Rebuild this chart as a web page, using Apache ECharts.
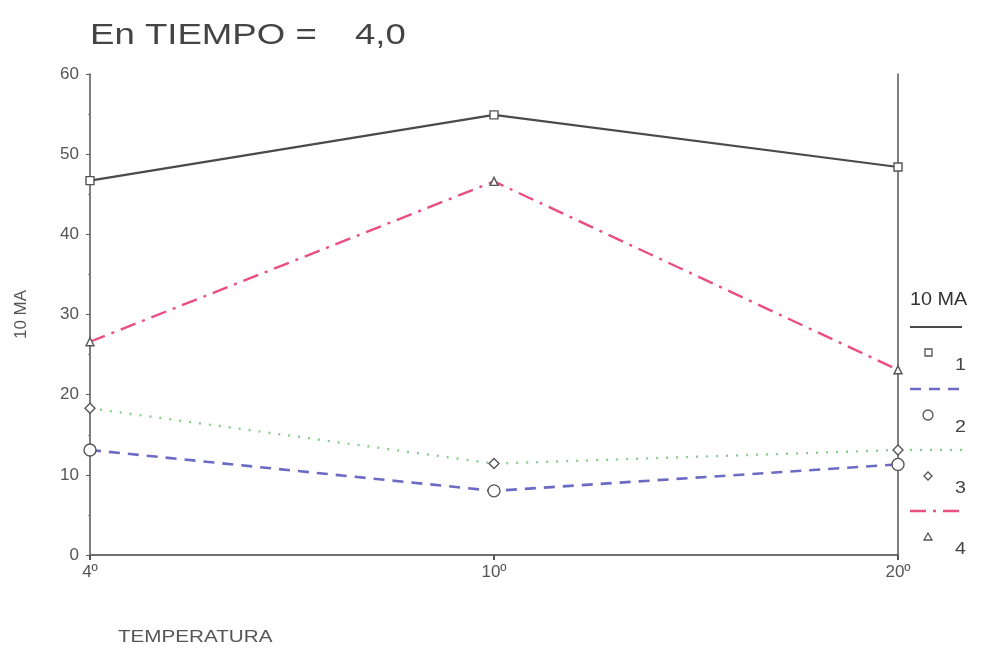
<!DOCTYPE html>
<html>
<head>
<meta charset="utf-8">
<script src="https://cdn.jsdelivr.net/npm/echarts@6/dist/echarts.min.js"></script>
<style>html,body{margin:0;padding:0;background:#fff;}#c{width:982px;height:657px;}</style>
</head>
<body>
<div id="c"></div>
<script>
const categories = ['4º', '10º', '20º'];
const seriesNames = ['1', '2', '3', '4'];
const s1 = [46.7, 54.9, 48.4];
const s2 = [13.1, 8.0, 11.3];
const s3 = [18.3, 11.4, 13.1];
const s4 = [26.6, 46.6, 23.1];
const yTicks = [0, 10, 20, 30, 40, 50, 60];

const chart = echarts.init(document.getElementById('c'));
const FONT = 'Liberation Sans, Arial, sans-serif';
const markerStyle = {color: '#fff', borderColor: '#555', borderWidth: 1.4};

const styles = [
  {color: '#4a4a4a', type: 'solid', width: 2.2, symbol: 'rect', size: 8},
  {color: '#6b6bc6', type: [11, 8], width: 2.6, symbol: 'circle', size: 12},
  {color: '#86d08a', type: [2, 8], width: 2.4, symbol: 'diamond', size: 10},
  {color: '#ea4f80', type: [16, 7, 3, 7], width: 2.4, symbol: 'triangle', size: 8}
];
const data = [s1, s2, s3, s4];

const series = data.map((d, i) => ({
  name: seriesNames[i],
  type: 'line',
  data: d,
  symbol: styles[i].symbol,
  symbolSize: styles[i].size,
  showAllSymbol: true,
  lineStyle: {color: styles[i].color, type: styles[i].type, width: styles[i].width},
  itemStyle: markerStyle,
  z: 3 + i
}));

// legend graphics
const legendG = [];
legendG.push({type: 'text', x: 910, y: 300, scaleX: 1.1, style: {text: '10 MA', font: '18px ' + FONT, fill: '#333', verticalAlign: 'middle'}});
const lineY = [327, 389, 450, 511];
styles.forEach((s, i) => {
  legendG.push({type: 'line', shape: {x1: 910, y1: lineY[i], x2: 962, y2: lineY[i]},
    style: {stroke: s.color, lineWidth: s.width, lineDash: s.type === 'solid' ? null : s.type}});
  const my = lineY[i] + 26;
  let shape;
  if (s.symbol === 'rect') shape = {type: 'rect', shape: {x: 925, y: my - 4, width: 7, height: 7}};
  else if (s.symbol === 'circle') shape = {type: 'circle', shape: {cx: 928, cy: my, r: 5}};
  else if (s.symbol === 'diamond') shape = {type: 'polygon', shape: {points: [[928, my - 4], [932, my], [928, my + 4], [924, my]]}};
  else shape = {type: 'polygon', shape: {points: [[928, my - 4], [932, my + 3], [924, my + 3]]}};
  shape.style = {fill: '#fff', stroke: '#555', lineWidth: 1.3};
  legendG.push(shape);
  legendG.push({type: 'text', x: 955, y: my + 12, scaleX: 1.15, style: {text: seriesNames[i], font: '17px ' + FONT, fill: '#444', verticalAlign: 'middle'}});
});

chart.setOption({
  animation: false,
  backgroundColor: '#fff',
  textStyle: {fontFamily: FONT},
  grid: {left: 90, top: 74, right: 84, bottom: 102},
  xAxis: [{
    type: 'category',
    data: categories,
    boundaryGap: false,
    axisLine: {lineStyle: {color: '#aaa', width: 1.5}},
    axisTick: {show: true, length: 5, lineStyle: {color: '#555', width: 2}},
    axisLabel: {color: '#555', fontSize: 17, margin: 9, fontFamily: FONT},
    splitLine: {show: false}
  }, {
    type: 'category',
    data: categories,
    position: 'top',
    boundaryGap: false,
    axisLine: {show: true, lineStyle: {color: '#555', width: 1.5}},
    axisTick: {show: false},
    axisLabel: {show: false},
    splitLine: {show: false}
  }],
  yAxis: [{
    type: 'value',
    min: 0, max: 60, interval: 10,
    name: '10 MA',
    nameLocation: 'middle',
    nameGap: 60,
    nameTextStyle: {color: '#555', fontSize: 17, fontFamily: FONT},
    axisLine: {show: true, lineStyle: {color: '#555', width: 1.5}},
    axisTick: {show: true, length: 4, lineStyle: {color: '#555'}},
    minorTick: {show: true, splitNumber: 2, length: 2, lineStyle: {color: '#888'}},
    axisLabel: {color: '#555', fontSize: 17, margin: 11, fontFamily: FONT,
      formatter: v => yTicks.includes(v) ? String(v) : ''},
    splitLine: {show: false}
  }, {
    type: 'value',
    min: 0, max: 60, interval: 10,
    position: 'right',
    axisLine: {show: true, lineStyle: {color: '#555', width: 1.5}},
    axisTick: {show: false},
    axisLabel: {show: false},
    splitLine: {show: false}
  }],
  series: series,
  graphic: [
    {type: 'text', x: 90, y: 36, scaleX: 1.22, style: {text: 'En TIEMPO =', font: '30px ' + FONT, fill: '#444', verticalAlign: 'middle'}},
    {type: 'text', x: 355, y: 36, scaleX: 1.22, style: {text: '4,0', font: '30px ' + FONT, fill: '#444', verticalAlign: 'middle'}},
    {type: 'text', x: 118, y: 638, scaleX: 1.29, style: {text: 'TEMPERATURA', font: '16px ' + FONT, fill: '#555', verticalAlign: 'middle'}}
  ].concat(legendG)
});
</script>
</body>
</html>
